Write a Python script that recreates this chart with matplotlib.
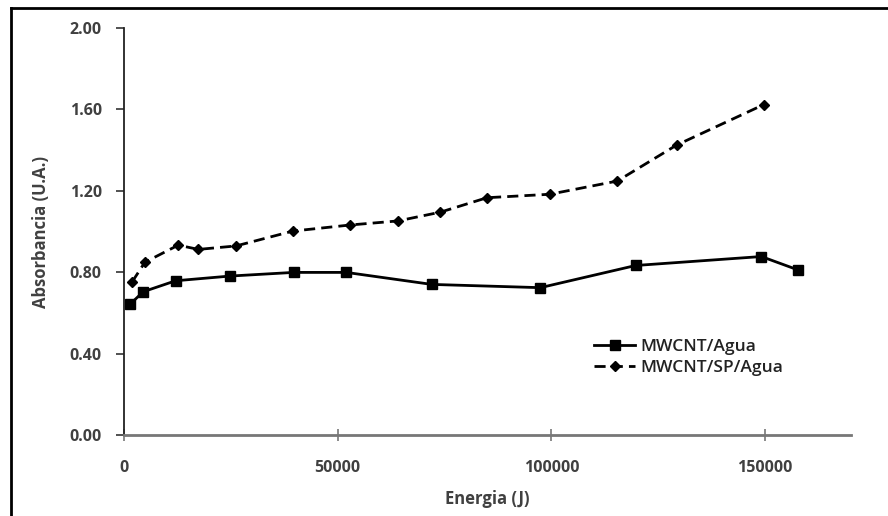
import matplotlib
matplotlib.use("Agg")
import matplotlib.pyplot as plt
from matplotlib.lines import Line2D

# Absorbance vs. applied energy for the two dispersions
energy_agua = [1400, 4500, 12100, 24800, 39700, 52000, 72000, 97400, 119700, 149100, 157700]
abs_agua = [0.642, 0.704, 0.758, 0.781, 0.799, 0.799, 0.740, 0.724, 0.833, 0.877, 0.811]

energy_sp = [1900, 4900, 12700, 17400, 26200, 39500, 52900, 64100, 74000, 84900,
             99600, 115400, 129300, 149700]
abs_sp = [0.752, 0.849, 0.933, 0.912, 0.929, 1.002, 1.032, 1.052, 1.095, 1.166,
          1.183, 1.248, 1.425, 1.624]

x_ticks = [0, 50000, 100000, 150000]
y_ticks = [0.0, 0.4, 0.8, 1.2, 1.6, 2.0]

plt.rcParams["font.family"] = ["Open Sans", "DejaVu Sans"]
TEXT = "#404040"

fig = plt.figure(figsize=(8.88, 5.16), dpi=100)
ax = fig.add_axes([0.1396, 0.157, 0.8184, 0.7887])

ax.plot(energy_agua, abs_agua, color="black", lw=2, marker="s", ms=7,
        label="MWCNT/Agua")
ax.plot(energy_sp, abs_sp, color="black", lw=2, ls=(0, (4, 2.2)), marker="D", ms=5,
        label="MWCNT/SP/Agua")

ax.set_xlim(0, 170000)
ax.set_ylim(0, 2.0)
ax.set_xticks(x_ticks)
ax.set_xticklabels([str(v) for v in x_ticks])
ax.set_yticks(y_ticks)
ax.set_yticklabels([f"{v:.2f}" for v in y_ticks])

for s in ("top", "right"):
    ax.spines[s].set_visible(False)
ax.spines["left"].set_color("#222222")
ax.spines["left"].set_linewidth(1.3)
ax.spines["bottom"].set_color("#777777")
ax.spines["bottom"].set_linewidth(2)

ax.tick_params(axis="y", direction="out", length=6, width=1.2, color="#333333",
               labelsize=11.5, labelcolor=TEXT, pad=10)
ax.tick_params(axis="x", direction="inout", length=8, width=1.2, color="#777777",
               labelsize=11.5, labelcolor=TEXT, pad=14)
for lab in ax.get_xticklabels() + ax.get_yticklabels():
    lab.set_fontweight("bold")

ax.set_xlabel("Energia (J)", fontsize=12, fontweight="bold", color=TEXT, labelpad=10)
ax.set_ylabel("Absorbancia (U.A.)", fontsize=12, fontweight="bold", color=TEXT,
              labelpad=14)

ax.legend(loc="center left", bbox_to_anchor=(0.625, 0.19), frameon=False,
          prop={"size": 12.5, "weight": "semibold"}, handlelength=2.4,
          handletextpad=0.3, labelspacing=0.25, labelcolor="#222222")

# Outer frame: only top and left edges
fig.add_artist(Line2D([11 / 888, 1], [1 - 8 / 516] * 2, transform=fig.transFigure,
                      color="black", lw=2))
fig.add_artist(Line2D([11 / 888] * 2, [0, 1 - 8 / 516], transform=fig.transFigure,
                      color="black", lw=2))

fig.savefig("out.png", dpi=100)
